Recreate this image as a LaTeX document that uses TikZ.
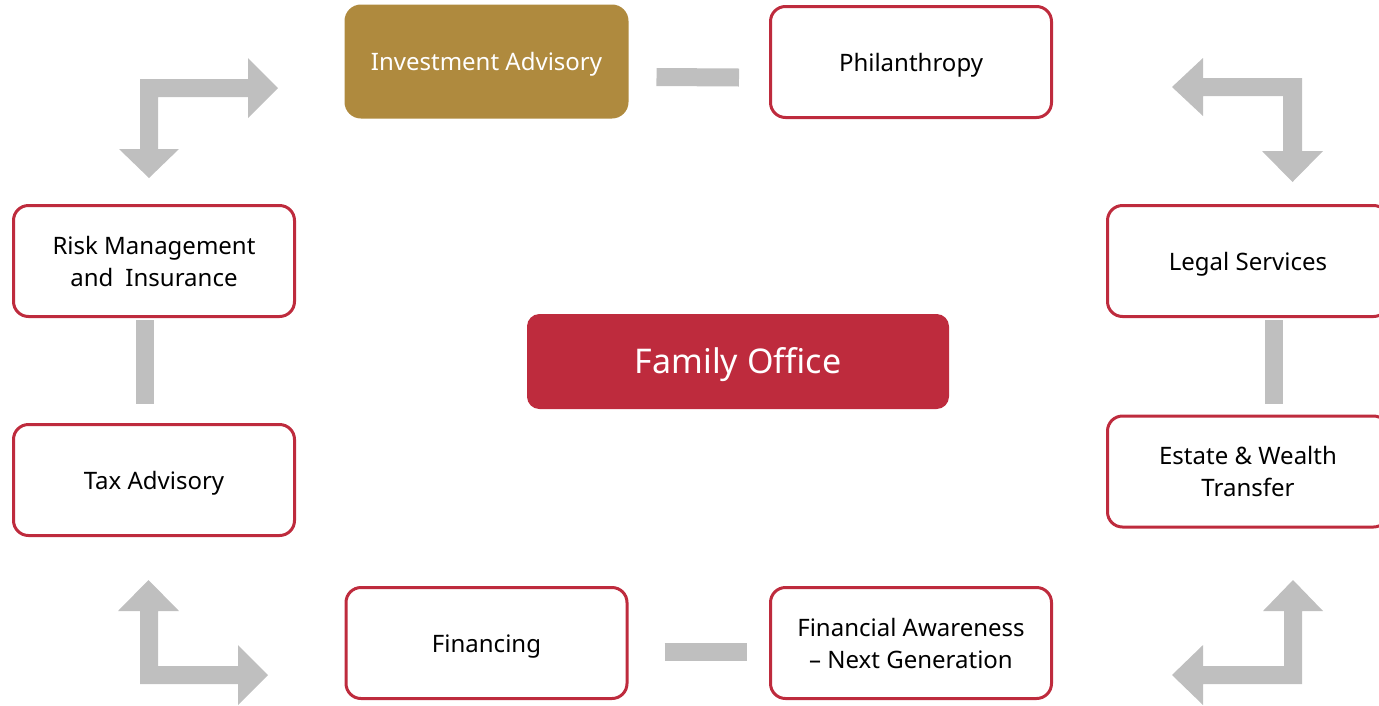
\documentclass[tikz,border=0pt]{standalone}
\usepackage{fontspec}
\setmainfont{Noto Sans}
\usetikzlibrary{calc}
\definecolor{fored}{HTML}{BE2B3D}
\definecolor{gold}{HTML}{AF8A3E}
\definecolor{bargray}{HTML}{BFBFBF}
\begin{document}
\begin{tikzpicture}[x=1pt,y=-1pt,
  svc/.style={draw=fored, line width=3pt, fill=white, rounded corners=15pt,
    minimum width=281pt, minimum height=111pt, align=center, inner sep=0pt,
    font=\fontsize{24}{32}\selectfont, text=black},
  oneline/.style={text height=18.5pt, text depth=0pt},
  goldbox/.style={svc, draw=gold, fill=gold, text=white},
  hub/.style={draw=fored, fill=fored, line width=1pt, rounded corners=12pt,
    minimum width=421pt, minimum height=94pt, text=white,
    font=\fontsize{34}{40}\selectfont, inner sep=0pt, text height=23.7pt, text depth=0pt},
  bar/.style={draw=bargray, line width=18pt},
  bent/.style={fill=bargray, draw=none}]
\useasboundingbox (0,0) rectangle (1379,705);

\node[goldbox, oneline] (inv) at (486.5,61.5) {Investment Advisory};
\node[svc, oneline] (phil) at (911,62) {Philanthropy};
\node[svc] (risk) at (154,261) {Risk Management\\and\enspace Insurance};
\node[svc, oneline] (tax) at (154,480) {Tax Advisory};
\node[svc, oneline] (legal) at (1248,261) {Legal Services};
\node[svc] (estate) at (1248,471.5) {Estate \& Wealth\\Transfer};
\node[svc, oneline] (fin) at (486.5,643) {Financing};
\node[svc] (aware) at (911,643) {Financial Awareness\\– Next Generation};
\node[hub] (fo) at (738,361.5) {Family Office};

\draw[bar] ($(inv.east)+(28,15.5)$) -- ($(phil.west)+(-30,15.5)$);
\draw[bar] ($(fin.east)+(36,9)$) -- ($(aware.west)+(-22,9)$);
\draw[bar] ($(risk.south)+(-9,2)$) -- ($(tax.north)+(-9,-19)$);
\draw[bar] ($(legal.south)+(26,2)$) -- ($(estate.north)+(26,-11)$);

% corner arrows
\fill[bent] (149,178) -- (179,149) -- (158,149) -- (158,97) -- (248,97) -- (248,118)
  -- (278,88) -- (248,58) -- (248,79) -- (140,79) -- (140,149) -- (119,149) -- cycle;
\fill[bent] (1172,87) -- (1203,58) -- (1203,78) -- (1302,78) -- (1302,151) -- (1323,151)
  -- (1292.5,182) -- (1262,151) -- (1283,151) -- (1283,96) -- (1203,96) -- (1203,116) -- cycle;
\fill[bent] (148.5,580) -- (179,611) -- (158,611) -- (158,666) -- (238,666) -- (238,645)
  -- (268,675) -- (238,705) -- (238,684) -- (140,684) -- (140,611) -- (118,611) -- cycle;
\fill[bent] (1293,580) -- (1323,611) -- (1302,611) -- (1302,684) -- (1203,684) -- (1203,705)
  -- (1172,675) -- (1203,645) -- (1203,666) -- (1284,666) -- (1284,611) -- (1263,611) -- cycle;
\end{tikzpicture}
\end{document}
